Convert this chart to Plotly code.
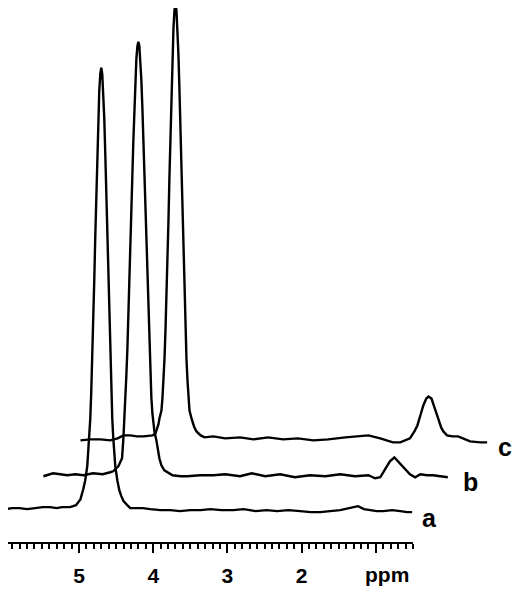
import numpy as np
import plotly.graph_objects as go

# --- spectrum a (ppm, intensity above its own baseline) ---
ppm_a = [6.00, 5.90, 5.80, 5.70, 5.59, 5.49, 5.39, 5.30, 5.23, 5.12,
         5.04, 4.98, 4.943, 4.916, 4.889, 4.862, 4.848, 4.835, 4.821, 4.808,
         4.794, 4.781, 4.767, 4.754, 4.740, 4.727, 4.713, 4.700, 4.687, 4.673,
         4.660, 4.646, 4.633, 4.619, 4.606, 4.592, 4.579, 4.565, 4.552, 4.538,
         4.511, 4.484, 4.457, 4.430, 4.40, 4.35, 4.31, 4.22, 4.14, 4.04,
         3.90, 3.77, 3.64, 3.50, 3.36, 3.23, 3.08, 2.92, 2.78, 2.62,
         2.47, 2.33, 2.18, 2.02, 1.88, 1.75, 1.62, 1.48, 1.36, 1.30,
         1.24, 1.16, 1.08, 0.99, 0.90, 0.78, 0.67, 0.58, 0.51]
int_a = [-1, 0, 0, -1, 0, 1, 1, 0, 1, 1,
         3, 9, 19, 28, 42, 70, 90, 117, 150, 188,
         230, 272, 316, 356, 392, 419, 436, 442, 436, 419,
         392, 356, 316, 272, 230, 188, 150, 117, 90, 70,
         42, 28, 18, 12, 7, 3, 0, 0, 0, -1,
         -2, -2, -3, -2, -2, -1, -2, -2, -1, -3,
         -2, -3, -2, -3, -4, -4, -3, -2, 0, 1,
         2, -1, -2, -3, -3, -2, -3, -4, -4]

# --- spectrum b ---
ppm_b = [5.98, 5.85, 5.75, 5.66, 5.55, 5.44, 5.31, 5.22, 5.18, 5.08,
         5.04, 4.97, 4.92, 4.902, 4.889, 4.875, 4.862, 4.848, 4.835, 4.821,
         4.808, 4.794, 4.781, 4.767, 4.754, 4.740, 4.727, 4.713, 4.700, 4.687,
         4.673, 4.660, 4.646, 4.633, 4.619, 4.606, 4.592, 4.579, 4.565, 4.552,
         4.538, 4.525, 4.511, 4.498, 4.484, 4.457, 4.430, 4.417, 4.39, 4.35,
         4.24, 4.13, 4.04, 3.87, 3.69, 3.53, 3.33, 3.17, 2.99, 2.79,
         2.59, 2.39, 2.18, 1.98, 1.78, 1.60, 1.51, 1.44, 1.36, 1.31,
         1.25, 1.20, 1.12, 1.04, 0.97, 0.90, 0.81, 0.73, 0.63, 0.53]
int_b = [-1, 2, 1, 0, 1, 0, 2, 1, 1, 3,
         4, 9, 17, 37, 55, 78, 100, 127, 157, 190,
         226, 264, 301, 337, 369, 397, 418, 431, 435, 431,
         418, 397, 369, 337, 301, 264, 226, 190, 157, 127,
         100, 78, 62, 50, 44, 35, 22, 17, 10, 5,
         0, -1, -1, 0, 0, 1, -1, 2, -1, 1,
         -2, 0, -1, 1, -1, 0, -3, -2, 8, 14,
         18, 14, 7, 1, -2, 1, 0, 0, -1, -2]

# --- spectrum c ---
ppm_c = [5.98, 5.85, 5.71, 5.58, 5.48, 5.40, 5.31, 5.22, 5.13, 5.01,
         4.97, 4.93, 4.916, 4.889, 4.875, 4.862, 4.848, 4.835, 4.821, 4.808,
         4.794, 4.781, 4.767, 4.754, 4.740, 4.727, 4.713, 4.700, 4.687, 4.673,
         4.660, 4.646, 4.633, 4.619, 4.606, 4.592, 4.579, 4.565, 4.552, 4.538,
         4.525, 4.511, 4.484, 4.45, 4.417, 4.36, 4.31, 4.19, 4.03, 3.83,
         3.65, 3.45, 3.25, 3.05, 2.84, 2.64, 2.41, 2.24, 2.10, 1.94,
         1.77, 1.67, 1.54, 1.48, 1.44, 1.40, 1.36, 1.32, 1.29, 1.25,
         1.23, 1.19, 1.16, 1.12, 1.09, 1.04, 0.97, 0.89, 0.82, 0.73,
         0.59, 0.50]
int_c = [-1, 0, 0, -1, 1, 4, 4, 3, 3, 4,
         6, 15, 21, 29, 42, 59, 81, 109, 142, 180,
         221, 265, 309, 350, 386, 413, 431, 437, 431, 413,
         386, 350, 309, 265, 221, 180, 142, 109, 81, 59,
         42, 29, 21, 13, 8, 4, 2, 3, 1, 2,
         0, 2, 0, 1, -1, 0, 2, 3, 4, 1,
         -3, -3, 1, 8, 14, 24, 34, 41, 43, 41,
         36, 27, 21, 12, 8, 4, 3, 3, 1, -2,
         -3, -3]

labels = ["a", "b", "c"]
spectra = [(ppm_a, int_a), (ppm_b, int_b), (ppm_c, int_c)]
shift_ppm = [0.0, 0.5, 1.0]     # oblique stacking to the right
lift = [35, 68, 104]            # vertical stacking
label_x = [0.27, -0.28, -0.74]
label_y = [25, 61, 96]

major_vals = [5, 4, 3, 2, 1]
major_text = ["5", "4", "3", "2", ""]
minor_vals = [v for v in np.round(np.arange(0.5, 6.01, 0.1), 1) if v not in major_vals]

fig = go.Figure()

for (p, y), s, l in zip(spectra, shift_ppm, lift):
    fig.add_trace(
        go.Scatter(
            x=np.array(p) - s,
            y=np.array(y) + l,
            mode="lines",
            line=dict(color="black", width=2.4),
            hoverinfo="skip",
            showlegend=False,
        )
    )

for t, lx, ly in zip(labels, label_x, label_y):
    fig.add_annotation(
        x=lx, y=ly, text=t, showarrow=False,
        font=dict(family="Liberation Sans", size=25, color="black", weight="bold"),
    )

fig.add_annotation(
    x=0.85, y=-0.0596, xref="x", yref="paper", text="ppm", showarrow=False,
    yanchor="middle",
    font=dict(family="Liberation Sans", size=21, color="black", weight="bold"),
)

# axis baseline only under the ppm scale
fig.add_shape(
    type="line", xref="x", yref="y domain", x0=6.0, x1=0.5, y0=0, y1=0,
    line=dict(color="black", width=2),
)

fig.update_xaxes(
    range=[5.957, -0.943],
    showline=False, showgrid=False, zeroline=False,
    ticks="outside", tickvals=major_vals, ticktext=major_text,
    ticklen=9, tickwidth=2, tickcolor="black", ticklabelstandoff=5,
    tickfont=dict(family="Liberation Sans", size=21, color="black", weight="bold"),
    minor=dict(tickvals=minor_vals, ticks="outside", ticklen=5, tickwidth=1.5,
               tickcolor="black", showgrid=False),
)
fig.update_yaxes(range=[0, 537], visible=False)

fig.update_layout(
    width=512, height=579,
    margin=dict(l=0, r=0, t=0, b=42),
    plot_bgcolor="white", paper_bgcolor="white",
)

fig.write_html("out.html")
